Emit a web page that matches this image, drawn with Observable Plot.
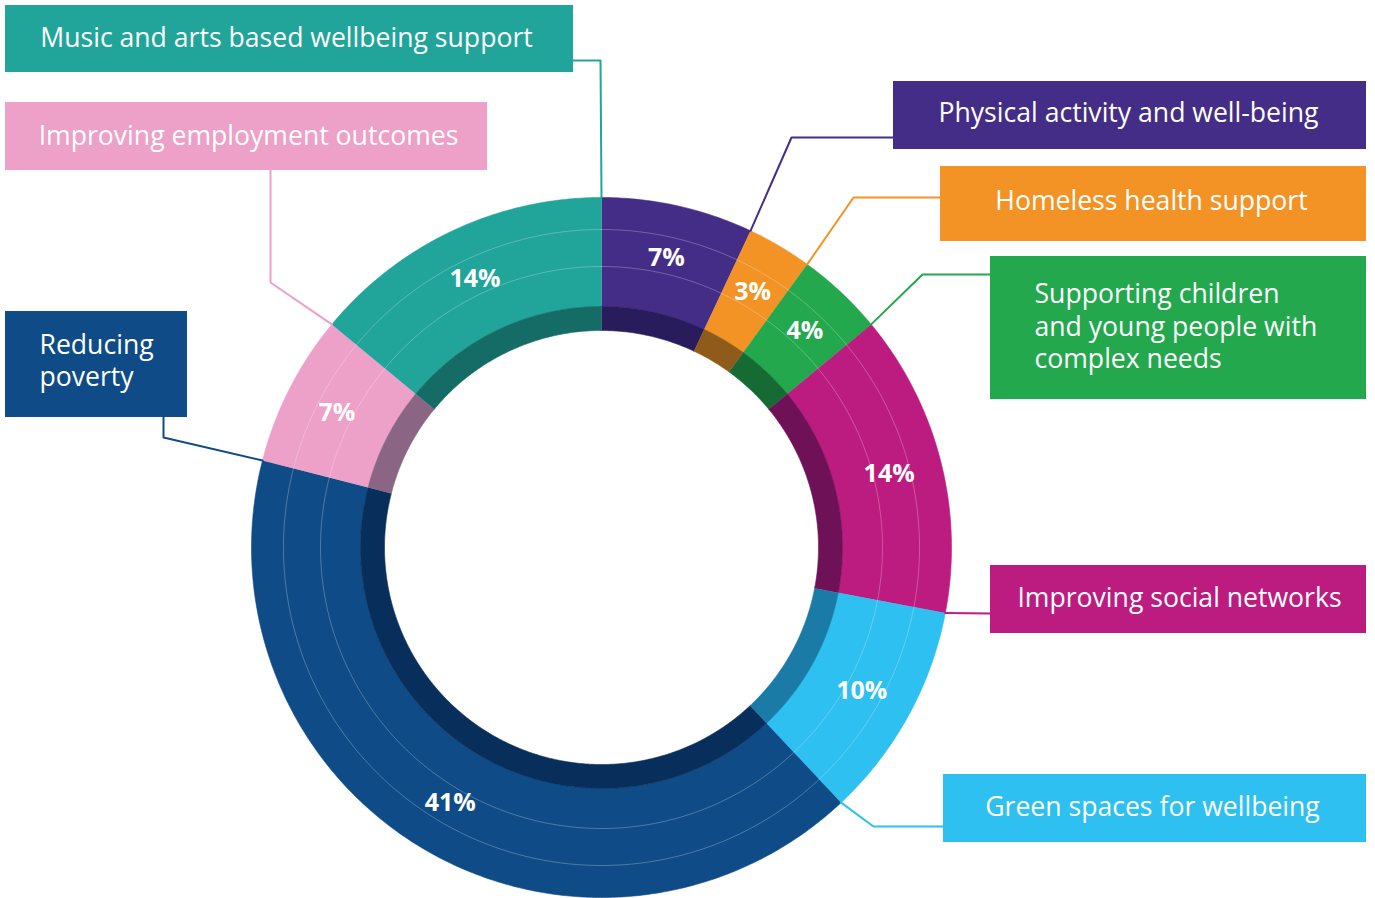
<!DOCTYPE html>
<html>
<head>
<meta charset="utf-8">
<script src="https://cdn.jsdelivr.net/npm/d3@7"></script>
<script src="https://cdn.jsdelivr.net/npm/@observablehq/plot@0.6"></script>
<style>
  html, body { margin: 0; padding: 0; background: #ffffff; }
  #chart svg { display: block; }
</style>
</head>
<body>
<div id="chart"></div>
<script>
// ---------- DATA ----------
const categories = [
  "Physical activity and well-being",
  "Homeless health support",
  "Supporting children and young people with complex needs",
  "Improving social networks",
  "Green spaces for wellbeing",
  "Reducing poverty",
  "Improving employment outcomes",
  "Music and arts based wellbeing support"
];
const values = [7, 3, 4, 14, 10, 41, 7, 14];
const valueLabels = ["7%", "3%", "4%", "14%", "10%", "41%", "7%", "14%"];
const boxLabels = [
  "Physical activity and well-being",
  "Homeless health support",
  "Supporting children\nand young people with\ncomplex needs",
  "Improving social networks",
  "Green spaces for wellbeing",
  "Reducing\npoverty",
  "Improving employment outcomes",
  "Music and arts based wellbeing support"
];

// ---------- STYLE / LAYOUT ----------
const colors = ["#432d87", "#f39325", "#24a84d", "#bc1b80", "#2dc0f0", "#0f4c87", "#eda0c8", "#21a49a"];
const darkColors = ["#281c5c", "#8e5b1a", "#166b34", "#6e1156", "#1a7ba6", "#082f5b", "#8b6684", "#156b66"];
const W = 1375, H = 898;
const CX = 601, CY = 547;
const R_OUT = 350, R_DARK = 241, R_IN = 217, R_LABEL = 297;
const RING_LINES = [281, 318];
const FONT = "'Open Sans', 'Noto Sans', sans-serif";

// callout boxes: [x1, y1, x2, y2], leader path from box (excluding final target), text anchor & position
const callouts = [
  {box: [893, 81, 1366, 149], path: [[893, 137], [791, 137]], anchor: "middle", tx: 1128, ty: 111},
  {box: [940, 166, 1366, 241], path: [[940, 197], [853, 197]], anchor: "middle", tx: 1151, ty: 199},
  {box: [990, 256, 1366, 399], path: [[990, 274], [922, 274]], anchor: "start", tx: 1034, ty: 325},
  {box: [990, 565, 1366, 633], path: [[990, 613]], anchor: "middle", tx: 1179, ty: 596},
  {box: [943, 774, 1366, 842], path: [[943, 826], [873, 826]], anchor: "middle", tx: 1152, ty: 805},
  {box: [5, 311, 187, 417], path: [[163, 417], [163, 437]], anchor: "start", tx: 39, ty: 359},
  {box: [5, 102, 487, 170], path: [[270, 170], [270, 282]], anchor: "middle", tx: 248, ty: 134},
  {box: [5, 5, 573, 72], path: [[573, 60], [600, 60]], anchor: "middle", tx: 286, ty: 36}
];

// ---------- GEOMETRY (from values) ----------
const total = d3.sum(values);
let cum = 0;
const segments = categories.map((c, i) => {
  const a0 = cum / total * 2 * Math.PI;
  cum += values[i];
  const a1 = cum / total * 2 * Math.PI;
  return {i, category: c, value: values[i], a0, a1, am: (a0 + a1) / 2};
});
const px = (a, r) => CX + r * Math.sin(a);
const py = (a, r) => CY - r * Math.cos(a);

function annulus(seg, r0, r1, colorArr) {
  const n = Math.max(2, Math.ceil((seg.a1 - seg.a0) / (Math.PI / 360)));
  const pts = [];
  for (let k = 0; k <= n; k++) {
    const a = seg.a0 + (seg.a1 - seg.a0) * k / n;
    pts.push({seg: seg.i, x: px(a, r1), y: py(a, r1), color: colorArr[seg.i]});
  }
  for (let k = n; k >= 0; k--) {
    const a = seg.a0 + (seg.a1 - seg.a0) * k / n;
    pts.push({seg: seg.i, x: px(a, r0), y: py(a, r0), color: colorArr[seg.i]});
  }
  return pts;
}
const outerPts = segments.flatMap(s => annulus(s, R_DARK, R_OUT, colors));
const darkPts = segments.flatMap(s => annulus(s, R_IN, R_DARK, darkColors));

const ringPts = RING_LINES.flatMap((r, j) => d3.range(0, 721).map(k => {
  const a = k / 720 * 2 * Math.PI;
  return {ring: j, x: px(a, r), y: py(a, r)};
}));

const labelPts = segments.map(s => ({x: px(s.am, R_LABEL), y: py(s.am, R_LABEL), text: valueLabels[s.i]}));

const leaderPts = segments.flatMap(s => {
  const c = callouts[s.i];
  const pts = c.path.map(([x, y]) => ({seg: s.i, x, y, color: colors[s.i]}));
  pts.push({seg: s.i, x: px(s.a1, R_OUT), y: py(s.a1, R_OUT), color: colors[s.i]});
  return pts;
});

const boxes = segments.map(s => {
  const c = callouts[s.i];
  return {x1: c.box[0], y1: c.box[1], x2: c.box[2], y2: c.box[3], color: colors[s.i],
          tx: c.tx, ty: c.ty, anchor: c.anchor, text: boxLabels[s.i]};
});

// ---------- PLOT ----------
const chart = Plot.plot({
  width: W,
  height: H,
  margin: 0,
  x: {domain: [0, W], range: [0, W], axis: null},
  y: {domain: [0, H], range: [0, H], axis: null},
  color: {type: "identity"},
  style: {fontFamily: FONT, background: "#ffffff"},
  marks: [
    Plot.line(outerPts, {x: "x", y: "y", z: "seg", fill: "color", stroke: "color", strokeWidth: 0.6, curve: "linear"}),
    Plot.line(darkPts, {x: "x", y: "y", z: "seg", fill: "color", stroke: "color", strokeWidth: 0.6, curve: "linear"}),
    Plot.line(ringPts, {x: "x", y: "y", z: "ring", stroke: "#ffffff", strokeOpacity: 0.32, strokeWidth: 0.8, curve: "linear"}),
    Plot.line(leaderPts, {x: "x", y: "y", z: "seg", stroke: "color", strokeWidth: 2, curve: "linear"}),
    Plot.text(labelPts, {x: "x", y: "y", text: "text", fill: "#ffffff", fontSize: 25, fontWeight: "bold", fontFamily: FONT}),
    Plot.rect(boxes, {x1: "x1", x2: "x2", y1: "y1", y2: "y2", fill: "color", inset: 0}),
    Plot.text(boxes.filter(b => b.anchor === "middle"), {x: "tx", y: "ty", text: "text", fill: "#ffffff", fontSize: 26.6, textAnchor: "middle", lineAnchor: "middle", lineHeight: 1.22, fontFamily: FONT}),
    Plot.text(boxes.filter(b => b.anchor === "start"), {x: "tx", y: "ty", text: "text", fill: "#ffffff", fontSize: 26.6, textAnchor: "start", lineAnchor: "middle", lineHeight: 1.22, fontFamily: FONT})
  ]
});
document.getElementById("chart").appendChild(chart);
</script>
</body>
</html>
